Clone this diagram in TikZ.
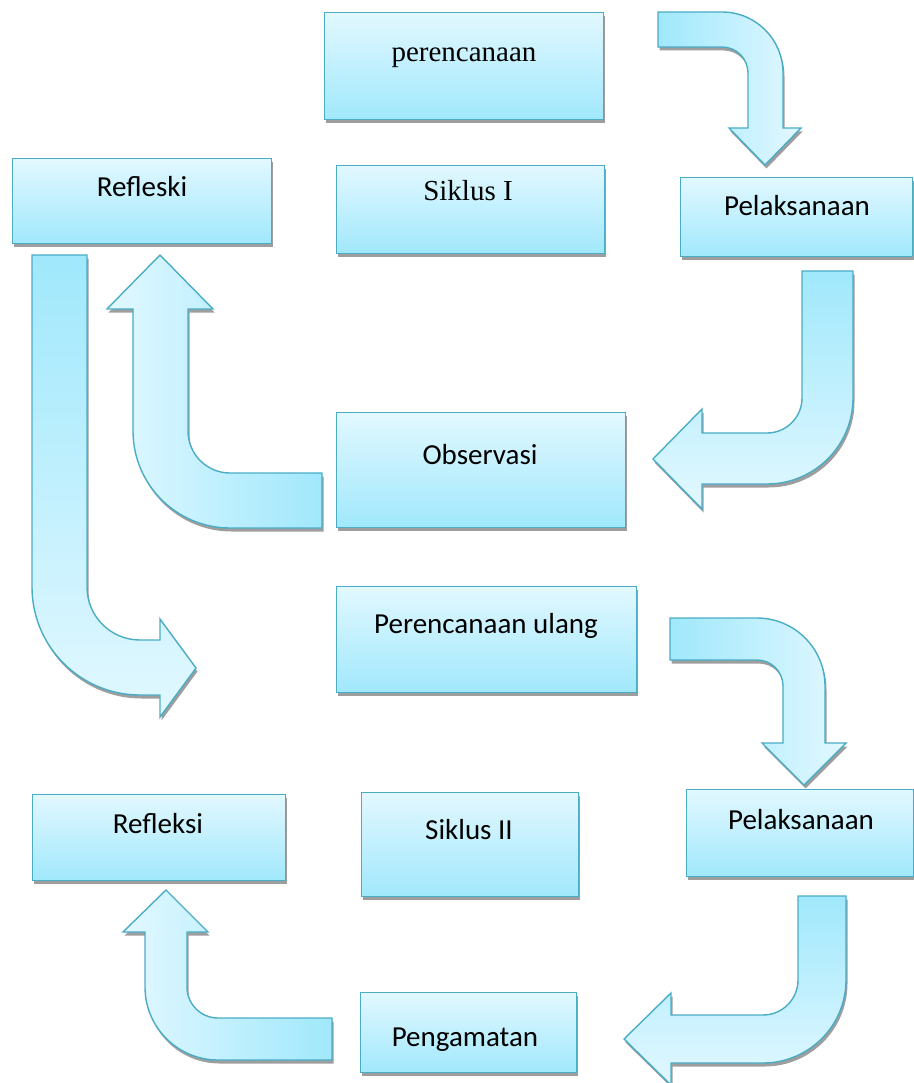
\documentclass[tikz,border=0pt]{standalone}
\usepackage{fontspec}
\setmainfont{Liberation Serif}
\newfontfamily\calfont{Carlito}
\usetikzlibrary{shadows}
\definecolor{aquaedge}{RGB}{75,172,198}
\definecolor{aqualt}{RGB}{226,248,255}
\definecolor{aquadk}{RGB}{160,232,252}
\begin{document}
\begin{tikzpicture}[x=1pt,y=-1pt,
  box/.style={rectangle, draw=aquaedge, line width=1.4pt, top color=aqualt, bottom color=aquadk,
    inner sep=0pt, anchor=north west,
    drop shadow={shadow xshift=1.5pt, shadow yshift=-3.5pt, fill=black!38, opacity=1}},
  arr/.style={draw=aquaedge, line width=1.4pt, line join=miter,
    drop shadow={shadow xshift=1.5pt, shadow yshift=-3.5pt, fill=black!38, opacity=1}},
  cal/.style={font=\calfont\fontsize{29}{34}\selectfont, anchor=base, inner sep=0pt},
  ser/.style={font=\fontsize{29}{34}\selectfont, anchor=base, inner sep=0pt}]
\useasboundingbox (0,0) rectangle (913,1083);

% ---------- block arrows ----------
% A1 perencanaan -> Pelaksanaan
\path[arr, left color=aquadk, right color=aqualt]
  (658,12) -- (722,12) .. controls (755.7,12) and (783,39.3) .. (783,73)
  -- (783,128) -- (801,128) -- (765,165) -- (729,128) -- (748,128) -- (748,73)
  .. controls (748,58.6) and (736.4,47) .. (722,47) -- (658,47) -- cycle;
% A2 Pelaksanaan -> Observasi
\path[arr, top color=aquadk, bottom color=aqualt]
  (802,271) -- (853,271) -- (853,398) .. controls (853,445.5) and (814.5,484) .. (767,484)
  -- (702,484) -- (702,509) -- (653,459) -- (702,409) -- (702,433) -- (767,433)
  .. controls (786.3,433) and (802,417.3) .. (802,398) -- cycle;
% A3 Observasi -> Refleski
\path[arr, left color=aqualt, right color=aquadk]
  (322,473) -- (230,473) .. controls (206.8,473) and (188,454.2) .. (188,431)
  -- (188,309) -- (213,309) -- (160,255) -- (107,309) -- (133,309) -- (133,431)
  .. controls (133,484.5) and (176.5,528) .. (230,528) -- (322,528) -- cycle;
% A4 Refleski -> Perencanaan ulang
\path[arr, top color=aquadk, bottom color=aqualt]
  (32,255) -- (87,255) -- (87,587) .. controls (87,616.3) and (110.7,640) .. (140,640)
  -- (160,640) -- (160,619) -- (196,668) -- (160,717) -- (160,695) -- (140,695)
  .. controls (80.4,695) and (32,646.6) .. (32,587) -- cycle;
% A5 Perencanaan ulang -> Pelaksanaan
\path[arr, left color=aquadk, right color=aqualt]
  (670,618) -- (757,618) .. controls (794.5,618) and (825,648.5) .. (825,686)
  -- (825,743) -- (846,743) -- (804,785) -- (762,743) -- (783,743) -- (783,686)
  .. controls (783,671.6) and (771.4,660) .. (757,660) -- (670,660) -- cycle;
% A6 Pelaksanaan -> Pengamatan
\path[arr, top color=aquadk, bottom color=aqualt]
  (798,896) -- (846,896) -- (846,980) .. controls (846,1025.8) and (808.8,1063) .. (763,1063)
  -- (671,1063) -- (671,1085) -- (624,1039) -- (671,993) -- (671,1015) -- (763,1015)
  .. controls (782.3,1015) and (798,999.3) .. (798,980) -- cycle;
% A7 Pengamatan -> Refleksi
\path[arr, left color=aqualt, right color=aquadk]
  (332,1018) -- (218,1018) .. controls (200.9,1018) and (187,1004.1) .. (187,987)
  -- (187,932) -- (208,932) -- (166,890) -- (123,932) -- (145,932) -- (145,987)
  .. controls (145,1027.3) and (177.7,1060) .. (218,1060) -- (332,1060) -- cycle;

% ---------- boxes ----------
\node[box, minimum width=279pt, minimum height=107pt] (b1) at (324,12) {};
\node[box, minimum width=259pt, minimum height=85pt]  (b2) at (12,158) {};
\node[box, minimum width=268pt, minimum height=88pt]  (b3) at (336,165) {};
\node[box, minimum width=232pt, minimum height=79pt]  (b4) at (680,177) {};
\node[box, minimum width=289pt, minimum height=115pt] (b5) at (336,412) {};
\node[box, minimum width=300pt, minimum height=106pt] (b6) at (336,586) {};
\node[box, minimum width=253pt, minimum height=86pt]  (b7) at (32,794) {};
\node[box, minimum width=217pt, minimum height=104pt] (b8) at (361,792) {};
\node[box, minimum width=227pt, minimum height=87pt]  (b9) at (686,789) {};
\node[box, minimum width=216pt, minimum height=80pt]  (b10) at (360,992) {};

% ---------- labels ----------
\node[ser] (t1) at (464,62) {perencanaan};
\node[cal] (t2) at (142,197) {Refleski};
\node[ser] (t3) at (468,201) {Siklus I};
\node[cal] (t4) at (797,215) {Pelaksanaan};
\node[cal] (t5) at (480,464) {Observasi};
\node[cal] (t6) at (486,633) {Perencanaan ulang};
\node[cal] (t7) at (158,833) {Refleksi};
\node[cal] (t8) at (469,839) {Siklus II};
\node[cal] (t9) at (801,829) {Pelaksanaan};
\node[cal] (t10) at (465,1046) {Pengamatan};
\end{tikzpicture}
\end{document}
